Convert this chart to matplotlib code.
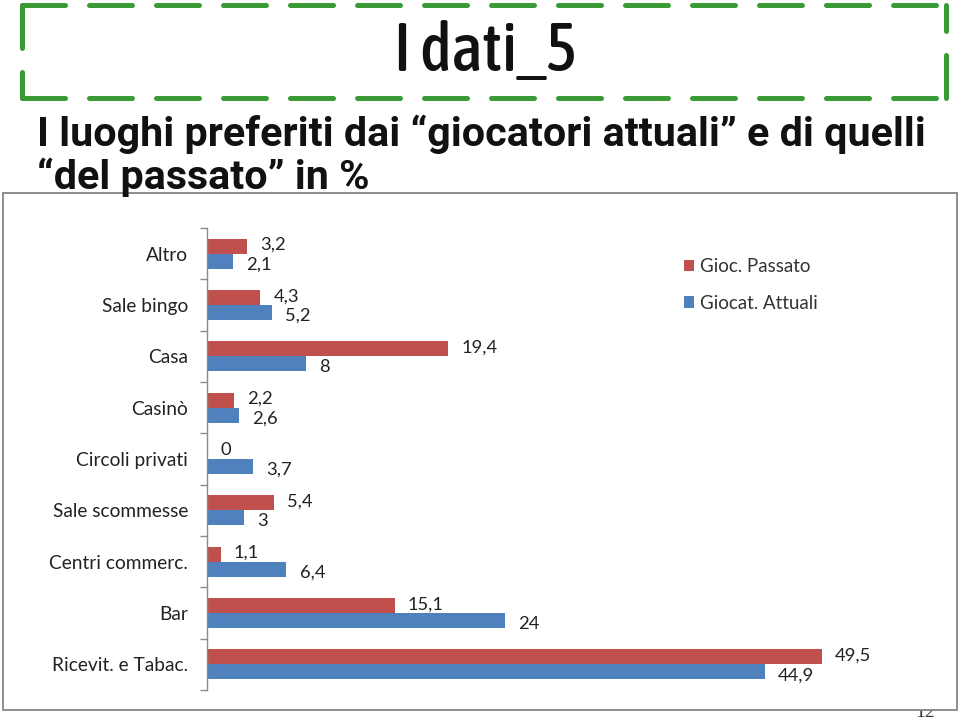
import matplotlib
matplotlib.use("Agg")
import matplotlib.pyplot as plt
from matplotlib.patches import Rectangle
from matplotlib.lines import Line2D
from matplotlib import font_manager as fm
import numpy as np

categories = ["Altro", "Sale bingo", "Casa", "Casinò", "Circoli privati",
              "Sale scommesse", "Centri commerc.", "Bar", "Ricevit. e Tabac."]
passato = [3.2, 4.3, 19.4, 2.2, 0, 5.4, 1.1, 15.1, 49.5]
attuali = [2.1, 5.2, 8, 2.6, 3.7, 3, 6.4, 24, 44.9]
series_names = ["Gioc. Passato", "Giocat. Attuali"]

RED = "#C0504D"
BLUE = "#4F81BD"
W, H = 960, 720

fig = plt.figure(figsize=(9.6, 7.2), dpi=100)
fig.patch.set_facecolor("white")


def fx(px):
    return px / W


def fy(py):
    return 1 - py / H


def weight_num(w):
    if isinstance(w, (int, float)):
        return int(w)
    return {"bold": 700, "semibold": 600, "demibold": 600, "medium": 500,
            "heavy": 800, "black": 900, "extra bold": 800}.get(str(w).lower(), 400)


def find_narrow(min_w, max_w):
    for f in fm.fontManager.ttflist:
        st = str(f.stretch).lower()
        nm = f.name.lower()
        narrow = ("condensed" in st or "narrow" in st or "narrow" in nm
                  or "condensed" in nm
                  or (isinstance(f.stretch, (int, float)) and f.stretch < 500))
        if narrow and f.style == "normal":
            wn = weight_num(f.weight)
            if min_w <= wn <= max_w:
                return f.fname
    return None


path = find_narrow(450, 650)
if path:
    title_props = fm.FontProperties(fname=path)
else:
    title_props = fm.FontProperties(family=["Roboto", "DejaVu Sans"], weight="medium")

sub_props = fm.FontProperties(family=["Roboto", "DejaVu Sans"], weight="bold")

renderer = fig.canvas.get_renderer()


def fit_size(s, target_w, max_size, props):
    p = props.copy()
    p.set_size(max_size)
    t = fig.text(0, 0, s, fontproperties=p)
    w = t.get_window_extent(renderer).width
    t.remove()
    return min(max_size, max_size * target_w / w)


# Dashed green title box
x0, x1, y0, y1 = 22, 946, 5, 98
green = "#3A9A36"
dash = (0, (8.6, 4.8))
for xs, ys in [((x0, x1), (y0, y0)), ((x0, x1), (y1, y1)),
               ((x0, x0), (y0, y1)), ((x1, x1), (y1, y0))]:
    fig.add_artist(Line2D([fx(xs[0]), fx(xs[1])], [fy(ys[0]), fy(ys[1])],
                          color=green, lw=3.6, linestyle=dash,
                          dash_capstyle="round"))

tp = title_props.copy()
tp.set_size(fit_size("I dati_5", 186, 48, title_props))
fig.text(fx(486), fy(52), "I dati_5", fontproperties=tp,
         ha="center", va="center", color="#111111")

line1 = "I luoghi preferiti dai \u201cgiocatori attuali\u201d e di quelli"
line2 = "\u201cdel passato\u201d in %"
sp = sub_props.copy()
sp.set_size(fit_size(line1, 886, 31, sub_props))
for txt, yy in [(line1, 134), (line2, 177)]:
    fig.text(fx(37), fy(yy), txt, fontproperties=sp, ha="left", va="center",
             color="#111111")

# page number (partially hidden)
fig.text(fx(925), fy(704), "12", ha="center", va="top", fontsize=14,
         family=["Liberation Serif", "DejaVu Serif"], color="#333333", zorder=0)

# chart box
fig.add_artist(Rectangle((fx(3), fy(710)), fx(954), (710 - 193) / H,
                         transform=fig.transFigure, facecolor="white",
                         edgecolor="#8C8C8C", lw=1.4, zorder=1))

label_font = ["Lato", "DejaVu Sans"]

# axes
px_per_unit = 12.42
xmax = 58
ax_left, ax_top, ax_bot = 207, 228, 690
ax = fig.add_axes([fx(ax_left), fy(ax_bot), xmax * px_per_unit / W,
                   (ax_bot - ax_top) / H])
ax.set_zorder(2)
ax.patch.set_alpha(0)

n = len(categories)
y = np.arange(n)
bh = 0.29
ax.barh(y - bh / 2, passato, height=bh, color=RED, label=series_names[0])
ax.barh(y + bh / 2, attuali, height=bh, color=BLUE, label=series_names[1])
ax.set_ylim(n - 0.5, -0.5)
ax.set_xlim(0, xmax)

for i in range(n):
    ax.annotate(f"{passato[i]:g}".replace(".", ","), (passato[i], y[i] - bh / 2),
                xytext=(9.5, 1), textcoords="offset points", ha="left",
                va="center", fontsize=13.2, family=label_font, color="#222222")
    ax.annotate(f"{attuali[i]:g}".replace(".", ","), (attuali[i], y[i] + bh / 2),
                xytext=(9.5, -2.5), textcoords="offset points", ha="left",
                va="center", fontsize=13.2, family=label_font, color="#222222")

ax.set_yticks(y)
ax.set_yticklabels(categories, family=label_font, fontsize=13.8, color="#222222")
ax.tick_params(axis="y", which="major", length=0, pad=13.5)
ax.set_yticks(np.arange(-0.5, n, 1), minor=True)
ax.tick_params(axis="y", which="minor", length=5, color="#8C8C8C", width=1)
ax.set_xticks([])
for s in ["top", "right", "bottom"]:
    ax.spines[s].set_visible(False)
ax.spines["left"].set_color("#8C8C8C")
ax.spines["left"].set_linewidth(1)

leg = ax.legend(loc="upper left",
                bbox_to_anchor=((684 - ax_left) / (xmax * px_per_unit),
                                1 - (258 - ax_top) / (ax_bot - ax_top)),
                frameon=False, prop={"family": label_font, "size": 13.5},
                handlelength=0.55, handleheight=0.55, handletextpad=0.3,
                labelspacing=1.05, borderaxespad=0, borderpad=0)
for t in leg.get_texts():
    t.set_color("#333333")

fig.savefig("out.png", dpi=100)
